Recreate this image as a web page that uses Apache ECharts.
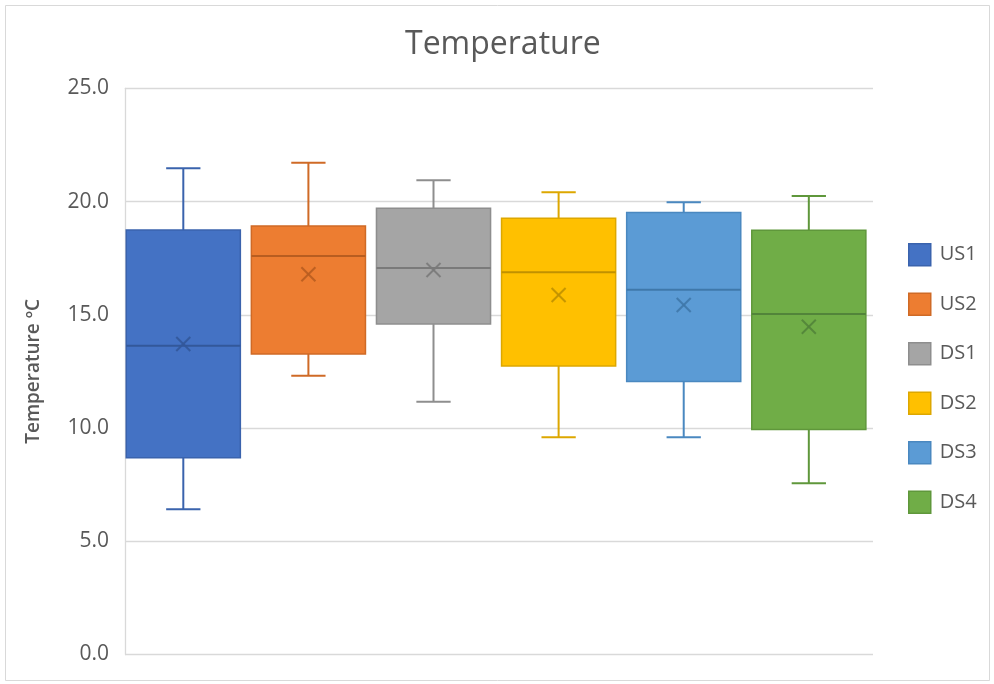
<!DOCTYPE html>
<html>
<head>
<meta charset="utf-8">
<script src="https://cdn.jsdelivr.net/npm/echarts@6/dist/echarts.min.js"></script>
<style>
html,body{margin:0;padding:0;background:#fff;}
#chart{width:994px;height:684px;}
</style>
</head>
<body>
<div id="chart"></div>
<script>
// ---- data ----
var categories = ['US1', 'US2', 'DS1', 'DS2', 'DS3', 'DS4'];
var mins    = [6.41, 12.31, 11.16, 9.59, 9.59, 7.56];
var q1s     = [8.69, 13.27, 14.59, 12.74, 12.05, 9.94];
var medians = [13.63, 17.60, 17.07, 16.88, 16.11, 15.03];
var q3s     = [18.74, 18.92, 19.70, 19.26, 19.52, 18.73];
var maxs    = [21.47, 21.71, 20.94, 20.41, 19.97, 20.24];
var means   = [13.71, 16.79, 16.98, 15.87, 15.43, 14.47];
var yTicks  = ['0.0', '5.0', '10.0', '15.0', '20.0', '25.0'];

// ---- styles ----
var fills = ['#4472C4', '#ED7D31', '#A5A5A5', '#FFC000', '#5B9BD5', '#70AD47'];
var borders = ['#3A63AD', '#CF6A26', '#8E8E8E', '#DDA700', '#4A88C0', '#5F973B'];
var marks = ['#33589A', '#B85D20', '#7A7A7A', '#C09100', '#3F78AA', '#52843A'];

var chart = echarts.init(document.getElementById('chart'));

function makeRender(idx) {
  return function (params, api) {
    var x = api.value(0);
    var lo = api.coord([x, api.value(1)]);
    var q1 = api.coord([x, api.value(2)]);
    var md = api.coord([x, api.value(3)]);
    var q3 = api.coord([x, api.value(4)]);
    var hi = api.coord([x, api.value(5)]);
    var mn = api.coord([x, api.value(6)]);
    var unit = api.size([1, 0])[0];
    var hw = unit * 0.456;
    var cw = unit * 0.137;
    var mk = 7;
    var cx = lo[0];
    var wStyle = {stroke: borders[idx], lineWidth: 2};
    return {
      type: 'group',
      children: [
        {type: 'line', shape: {x1: cx, y1: q3[1], x2: cx, y2: hi[1]}, style: wStyle},
        {type: 'line', shape: {x1: cx - cw, y1: hi[1], x2: cx + cw, y2: hi[1]}, style: wStyle},
        {type: 'line', shape: {x1: cx, y1: q1[1], x2: cx, y2: lo[1]}, style: wStyle},
        {type: 'line', shape: {x1: cx - cw, y1: lo[1], x2: cx + cw, y2: lo[1]}, style: wStyle},
        {type: 'rect', shape: {x: cx - hw, y: q3[1], width: 2 * hw, height: q1[1] - q3[1]},
          style: {fill: fills[idx], stroke: borders[idx], lineWidth: 1.5}},
        {type: 'line', shape: {x1: cx - hw, y1: md[1], x2: cx + hw, y2: md[1]},
          style: {stroke: marks[idx], lineWidth: 2}},
        {type: 'line', shape: {x1: cx - mk, y1: mn[1] - mk, x2: cx + mk, y2: mn[1] + mk},
          style: {stroke: marks[idx], lineWidth: 2, opacity: 0.9}},
        {type: 'line', shape: {x1: cx - mk, y1: mn[1] + mk, x2: cx + mk, y2: mn[1] - mk},
          style: {stroke: marks[idx], lineWidth: 2, opacity: 0.9}}
      ]
    };
  };
}

var series = categories.map(function (name, i) {
  return {
    name: name,
    type: 'custom',
    renderItem: makeRender(i),
    itemStyle: {color: fills[i], borderColor: borders[i]},
    encode: {x: 0, y: [1, 2, 3, 4, 5, 6]},
    data: [[i, mins[i], q1s[i], medians[i], q3s[i], maxs[i], means[i]]]
  };
});

var option = {
  animation: false,
  backgroundColor: '#ffffff',
  textStyle: {fontFamily: '"Open Sans", "Noto Sans", sans-serif'},
  title: {
    text: 'Temperature',
    left: 400,
    top: 24,
    textStyle: {fontSize: 32, fontWeight: 'normal', color: '#595959', fontFamily: '"Open Sans", sans-serif'}
  },
  legend: {
    orient: 'vertical',
    left: 903,
    top: 238,
    itemWidth: 22,
    itemHeight: 22,
    itemGap: 26,
    icon: 'rect',
    textStyle: {fontSize: 20, color: '#595959', padding: [0, 0, 0, 4]},
    data: categories.map(function (n, i) {
      return {name: n, itemStyle: {color: fills[i], borderColor: borders[i], borderWidth: 1.5}};
    })
  },
  graphic: [{
    type: 'rect',
    shape: {x: 5.5, y: 5.5, width: 984, height: 675},
    style: {fill: 'none', stroke: '#d9d9d9', lineWidth: 1},
    silent: true,
    z: -1
  }],
  grid: {left: 125, right: 121, top: 88.3, bottom: 29.5, containLabel: false},
  xAxis: {
    type: 'value',
    min: -0.466,
    max: 5.513,
    show: false,
    splitLine: {show: false}
  },
  yAxis: {
    type: 'value',
    min: 0,
    max: 25,
    interval: 5,
    name: 'Temperature ºC',
    nameLocation: 'middle',
    nameRotate: 90,
    nameGap: 82,
    nameTextStyle: {fontSize: 19, fontWeight: 600, color: '#595959'},
    axisLine: {show: true, onZero: false, lineStyle: {color: '#d9d9d9', width: 1.3}},
    axisTick: {show: false},
    axisLabel: {
      fontSize: 21,
      color: '#595959',
      margin: 16,
      formatter: function (v) { return yTicks[Math.round(v / 5)]; }
    },
    splitLine: {show: true, lineStyle: {color: '#d9d9d9', width: 1.3}}
  },
  series: series
};
chart.setOption(option);
</script>
</body>
</html>
